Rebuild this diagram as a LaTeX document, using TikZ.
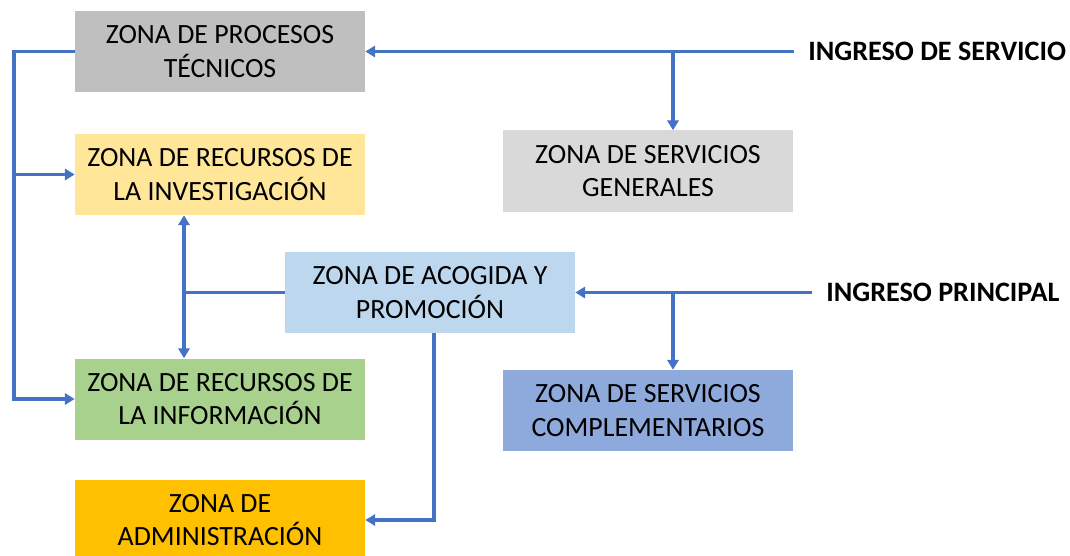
\documentclass[tikz,border=0pt]{standalone}
\usepackage{fontspec}
\setmainfont{Carlito}
\usepackage{tikz}
\usetikzlibrary{arrows.meta,positioning}
\definecolor{azulflecha}{HTML}{4472C4}
\definecolor{grisoscuro}{HTML}{BFBFBF}
\definecolor{grisclaro}{HTML}{D9D9D9}
\definecolor{amarillo}{HTML}{FFE699}
\definecolor{celeste}{HTML}{BDD7EE}
\definecolor{verde}{HTML}{A9D18E}
\definecolor{azulzona}{HTML}{8EA9DB}
\definecolor{naranja}{HTML}{FFC000}
\tikzset{
    zona/.style={rectangle, minimum width=7.25cm, minimum height=2.025cm, align=center, inner sep=0pt,
        font=\fontsize{19.8}{24}\selectfont},
    ingreso/.style={anchor=west, inner xsep=10pt, font=\fontsize{20}{24}\selectfont\bfseries},
    linea/.style={azulflecha, line width=2.6pt},
    flecha/.style={linea, -{Triangle[length=7pt,width=8pt]}},
    dobleflecha/.style={linea, {Triangle[length=7pt,width=8pt]}-{Triangle[length=7pt,width=8pt]}}
}
\begin{document}
\begin{tikzpicture}[x=0.025cm, y=-0.025cm]
                    \clip (0,0) rectangle (1070,555);
                    % zonas
                    \node[zona, fill=grisoscuro] (tecnicos) at (220,51.5) {ZONA DE PROCESOS\\TÉCNICOS};
                    \node[zona, fill=amarillo] (investigacion) at (220,174.5) {ZONA DE RECURSOS DE\\LA INVESTIGACIÓN};
                    \node[zona, fill=grisclaro] (generales) at (648,171) {ZONA DE SERVICIOS\\GENERALES};
                    \node[zona, fill=celeste] (acogida) at (430,292.5) {ZONA DE ACOGIDA Y\\PROMOCIÓN};
                    \node[zona, fill=verde] (informacion) at (220,399) {ZONA DE RECURSOS DE\\LA INFORMACIÓN};
                    \node[zona, fill=azulzona] (complementarios) at (648,410.5) {ZONA DE SERVICIOS\\COMPLEMENTARIOS};
                    \node[zona, fill=naranja] (administracion) at (220,520) {ZONA DE\\ADMINISTRACIÓN};

                    % ingresos
                    \node[ingreso] (ingservicio) at (794,51.5) {INGRESO DE SERVICIO};
                    \node[ingreso] (ingprincipal) at (812,292.5) {INGRESO PRINCIPAL};

                    \coordinate (ramaserv) at (673,51.5);
                    \coordinate (ramaprin) at (673,292.5);
                    \coordinate (eje) at (184,0);

                    \draw[flecha] (ingservicio.west) -- (tecnicos.east);
                    \draw[flecha] (ramaserv) -- (ramaserv |- generales.north);
                    \draw[flecha] (ingprincipal.west) -- (acogida.east);
                    \draw[flecha] (ramaprin) -- (ramaprin |- complementarios.north);

                    \draw[flecha] (tecnicos.west) -- ++(-61,0) coordinate (bus) |- (informacion.west);
                    \draw[flecha] (bus |- investigacion.west) -- (investigacion.west);

                    \draw[linea] (acogida.west) -- (acogida.west -| eje);
                    \draw[dobleflecha] (investigacion.south -| eje) -- (informacion.north -| eje);
                    \draw[flecha] ([xshift=3]acogida.south) |- (administracion.east);
                \end{tikzpicture}
\end{document}
